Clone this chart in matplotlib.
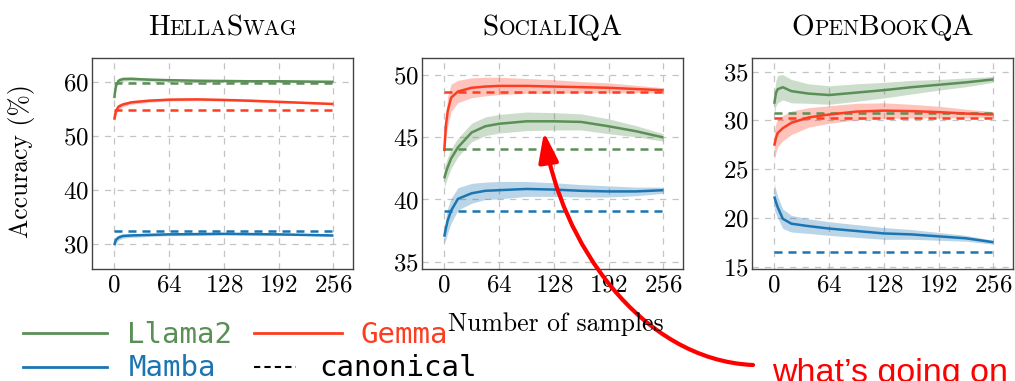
import matplotlib
matplotlib.use("Agg")
import matplotlib.pyplot as plt
import numpy as np
from matplotlib.offsetbox import TextArea, HPacker, AnnotationBbox
from matplotlib.patches import FancyArrowPatch
from matplotlib.path import Path
from matplotlib.lines import Line2D

plt.rcParams['font.family'] = 'cmr10'
plt.rcParams['mathtext.fontset'] = 'cm'
plt.rcParams['axes.formatter.use_mathtext'] = True

GREEN = '#5a8f56'
RED = '#fc3d22'
BLUE = '#1b75b2'

# ---- data ----
# HellaSwag
hs_x = [0, 2, 5, 10, 20, 40, 64, 96, 128, 160, 192, 224, 256]
hs_llama = [57.0, 59.3, 60.2, 60.5, 60.55, 60.4, 60.3, 60.2, 60.15, 60.1, 60.1, 60.05, 60.0]
hs_gemma = [53.0, 54.6, 55.4, 55.8, 56.2, 56.5, 56.7, 56.75, 56.65, 56.5, 56.3, 56.1, 55.9]
hs_mamba = [29.8, 30.8, 31.2, 31.5, 31.6, 31.7, 31.8, 31.85, 31.9, 31.85, 31.8, 31.7, 31.6]
hs_band = [0.7, 0.6, 0.5, 0.4, 0.35, 0.3, 0.25, 0.25, 0.2, 0.2, 0.2, 0.15, 0.15]
hs_canon = [59.75, 54.8, 32.4]  # llama2, gemma, mamba

# SocialIQA
si_x = [0, 2, 4, 8, 16, 32, 48, 64, 96, 128, 160, 192, 224, 256]
si_gemma = [43.9, 46.0, 47.1, 48.2, 48.7, 49.0, 49.1, 49.15, 49.15, 49.1, 49.05, 49.0, 48.9, 48.8]
si_gemma_band = [0.3, 1.0, 1.2, 1.1, 0.9, 0.8, 0.75, 0.7, 0.6, 0.55, 0.45, 0.4, 0.3, 0.2]
si_llama = [41.7, 42.2, 42.6, 43.3, 44.2, 45.4, 45.9, 46.1, 46.3, 46.3, 46.25, 45.9, 45.5, 45.0]
si_llama_band = [0.8, 0.8, 0.8, 0.8, 0.75, 0.75, 0.75, 0.75, 0.75, 0.7, 0.65, 0.6, 0.45, 0.3]
si_mamba = [37.0, 37.7, 38.3, 39.1, 40.05, 40.5, 40.7, 40.75, 40.85, 40.8, 40.7, 40.65, 40.65, 40.75]
si_mamba_band = [0.5, 0.9, 1.0, 1.0, 0.9, 0.8, 0.7, 0.7, 0.6, 0.55, 0.5, 0.45, 0.35, 0.25]
si_canon = [44.05, 48.7, 39.05]

# OpenBookQA
ob_x = [0, 2, 4, 10, 20, 40, 64, 96, 128, 160, 192, 224, 256]
ob_llama = [31.7, 32.8, 33.2, 33.4, 33.0, 32.75, 32.6, 32.85, 33.1, 33.4, 33.65, 33.9, 34.2]
ob_llama_band = [1.2, 1.3, 1.4, 1.3, 1.2, 1.0, 0.95, 0.9, 0.8, 0.7, 0.55, 0.45, 0.3]
ob_gemma = [27.4, 28.2, 28.7, 29.2, 29.75, 30.3, 30.6, 30.9, 31.0, 30.95, 30.85, 30.7, 30.6]
ob_gemma_band = [1.5, 1.5, 1.4, 1.3, 1.2, 1.0, 0.9, 0.85, 0.8, 0.7, 0.6, 0.45, 0.3]
ob_mamba = [22.2, 21.6, 21.1, 19.9, 19.4, 19.15, 18.9, 18.65, 18.4, 18.3, 18.1, 17.9, 17.5]
ob_mamba_band = [1.4, 1.2, 1.1, 1.0, 0.85, 0.75, 0.7, 0.65, 0.6, 0.5, 0.4, 0.3, 0.2]
ob_canon = [30.8, 30.25, 16.5]

x_ticks = [0, 64, 128, 192, 256]
hs_yticks = [30, 40, 50, 60]
si_yticks = [35, 40, 45, 50]
ob_yticks = [15, 20, 25, 30, 35]

W, H = 1015, 381
fig = plt.figure(figsize=(W / 100, H / 100), dpi=100)


def px(x, y):
    # page pixels (y down) -> figure fraction
    return x / W, 1 - y / H


def smallcaps_title(ax, parts):
    boxes = [TextArea(s, textprops=dict(family='cmr10', fontsize=21 if big else 15.3))
             for s, big in parts]
    pack = HPacker(children=boxes, align='baseline', pad=0, sep=0)
    ab = AnnotationBbox(pack, (0.5, 1.0), xycoords='axes fraction', xybox=(0, 12),
                        boxcoords='offset points', box_alignment=(0.5, 0), frameon=False)
    ax.add_artist(ab)


def panel(left, x, series, canon, yticks, ylim, title):
    ax = fig.add_axes([left / W, (H - 269) / H, 261 / W, 211 / H])
    for (y, band, c), cv in zip(series, canon):
        y = np.array(y)
        band = np.array(band)
        ax.fill_between(x, y - band, y + band, color=c, alpha=0.3, lw=0)
        ax.plot(x, y, color=c, lw=1.8, solid_capstyle='butt')
        ax.hlines(cv, x[0], x[-1], color=c, lw=1.8, linestyles=(0, (3.2, 2.4)))
    ax.set_xlim(-26, 279)
    ax.set_ylim(*ylim)
    ax.set_xticks(x_ticks)
    ax.set_yticks(yticks)
    ax.grid(True, color='#c4c4c4', linestyle=(0, (5, 5)), lw=0.9)
    ax.set_axisbelow(True)
    ax.tick_params(length=0, labelsize=18)
    ax.tick_params(axis='x', pad=4)
    ax.tick_params(axis='y', pad=2)
    for s in ax.spines.values():
        s.set_color('#444444')
        s.set_linewidth(1.0)
    smallcaps_title(ax, title)
    return ax


panel(92, hs_x, [(hs_llama, hs_band, GREEN), (hs_gemma, hs_band, RED), (hs_mamba, hs_band, BLUE)],
      hs_canon, hs_yticks, (25.4, 64.4),
      [('H', True), ('ELLA', False), ('S', True), ('WAG', False)])
panel(422, si_x, [(si_llama, si_llama_band, GREEN), (si_gemma, si_gemma_band, RED),
                  (si_mamba, si_mamba_band, BLUE)],
      si_canon, si_yticks, (34.4, 51.4),
      [('S', True), ('OCIAL', False), ('IQA', True)])
panel(752, ob_x, [(ob_llama, ob_llama_band, GREEN), (ob_gemma, ob_gemma_band, RED),
                  (ob_mamba, ob_mamba_band, BLUE)],
      ob_canon, ob_yticks, (14.75, 36.4),
      [('O', True), ('PEN', False), ('B', True), ('OOK', False), ('QA', True)])

fig.text(*px(22, 161), 'Accuracy (%)', rotation=90, ha='center', va='center', fontsize=18.5)
fig.text(*px(556, 324), 'Number of samples', ha='center', va='center', fontsize=18.5)

# legend overlay
mono = dict(family='DejaVu Sans Mono', fontsize=21)
for (x0, x1, y, c, ls, lw) in [(23, 107, 333, GREEN, '-', 2.0), (254, 342, 333, RED, '-', 2.0),
                               (23, 107, 367, BLUE, '-', 2.0), (254, 296, 367, 'black', (0, (3, 2)), 1.5)]:
    a, b = px(x0, y), px(x1, y)
    fig.add_artist(Line2D([a[0], b[0]], [a[1], b[1]], color=c, lw=lw, linestyle=ls))
fig.text(*px(127, 343), 'Llama2', color=GREEN, va='baseline', **mono)
fig.text(*px(361, 343), 'Gemma', color=RED, va='baseline', **mono)
fig.text(*px(129, 376), 'Mamba', color=BLUE, va='baseline', **mono)
fig.text(*px(319, 376), 'canonical', color='black', va='baseline', **mono)

# red annotation
verts = [px(753, 365), px(640, 360), px(560, 240), px(544, 132)]
arrow = FancyArrowPatch(path=Path(verts, [Path.MOVETO, Path.CURVE4, Path.CURVE4, Path.CURVE4]),
                        arrowstyle='-|>,head_length=18,head_width=6', mutation_scale=1,
                        color='#ff0000', lw=3, transform=fig.transFigure)
fig.add_artist(arrow)
fig.text(*px(772, 382), 'what\u2019s going on', color='#ff0000', family='Liberation Sans',
         fontsize=24.5, va='baseline', ha='left')

fig.savefig('out.png', dpi=100)
